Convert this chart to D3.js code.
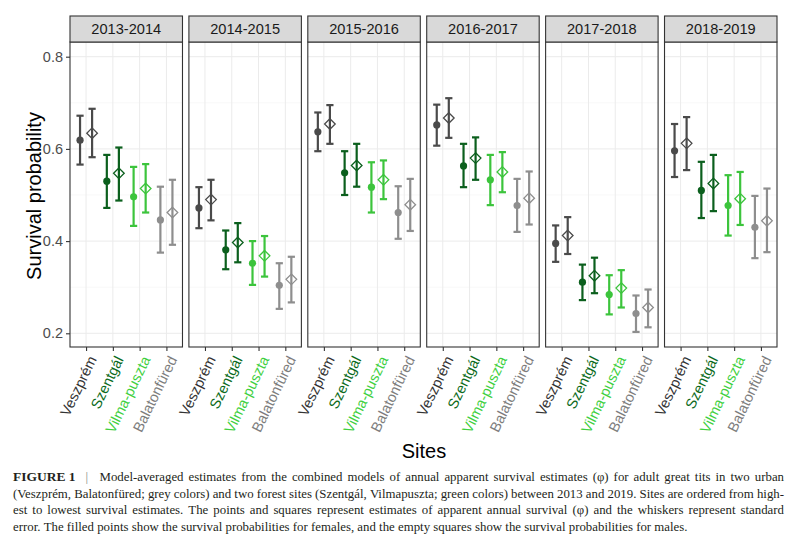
<!DOCTYPE html>
<html>
<head>
<meta charset="utf-8">
<script src="https://cdn.jsdelivr.net/npm/d3@7"></script>
<style>
  body { margin: 0; background: #fff; }
  svg { display: block; }
</style>
</head>
<body>
<div id="chart"></div>
<script>
// survival estimates, one row per season, columns follow `sites`
const years = ["2013-2014", "2014-2015", "2015-2016", "2016-2017", "2017-2018", "2018-2019"];
const sites = ["Veszprém", "Szentgál", "Vilma-puszta", "Balatonfüred"];

const femaleEst = [
  [0.619, 0.530, 0.496, 0.446],
  [0.472, 0.381, 0.352, 0.304],
  [0.637, 0.548, 0.517, 0.462],
  [0.652, 0.563, 0.533, 0.477],
  [0.395, 0.311, 0.284, 0.243],
  [0.596, 0.510, 0.477, 0.430]
];
const femaleLo = [
  [0.566, 0.472, 0.433, 0.375],
  [0.428, 0.339, 0.305, 0.253],
  [0.595, 0.500, 0.462, 0.405],
  [0.607, 0.517, 0.478, 0.420],
  [0.355, 0.272, 0.241, 0.203],
  [0.539, 0.450, 0.412, 0.363]
];
const femaleHi = [
  [0.672, 0.587, 0.561, 0.518],
  [0.517, 0.423, 0.400, 0.352],
  [0.679, 0.595, 0.571, 0.519],
  [0.696, 0.611, 0.587, 0.535],
  [0.434, 0.349, 0.326, 0.282],
  [0.654, 0.572, 0.543, 0.498]
];
const maleEst = [
  [0.634, 0.547, 0.514, 0.462],
  [0.490, 0.397, 0.368, 0.317],
  [0.654, 0.564, 0.533, 0.479],
  [0.667, 0.580, 0.550, 0.493],
  [0.412, 0.325, 0.298, 0.256],
  [0.612, 0.525, 0.492, 0.444]
];
const maleLo = [
  [0.582, 0.488, 0.462, 0.392],
  [0.445, 0.354, 0.323, 0.267],
  [0.611, 0.518, 0.491, 0.422],
  [0.624, 0.533, 0.506, 0.436],
  [0.372, 0.287, 0.256, 0.213],
  [0.554, 0.465, 0.435, 0.376]
];
const maleHi = [
  [0.687, 0.603, 0.567, 0.533],
  [0.533, 0.439, 0.411, 0.366],
  [0.695, 0.611, 0.575, 0.535],
  [0.710, 0.625, 0.593, 0.551],
  [0.452, 0.364, 0.337, 0.295],
  [0.669, 0.587, 0.550, 0.514]
];
const yTicks = [0.2, 0.4, 0.6, 0.8];
const yMinor = [0.3, 0.5, 0.7];

const captionLines = [
  "Model-averaged estimates from the combined models of annual apparent survival estimates (φ) for adult great tits in two urban",
  "(Veszprém, Balatonfüred; grey colors) and two forest sites (Szentgál, Vilmapuszta; green colors) between 2013 and 2019. Sites are ordered from high-",
  "est to lowest survival estimates. The points and squares represent estimates of apparent annual survival (φ) and the whiskers represent standard",
  "error. The filled points show the survival probabilities for females, and the empty squares show the survival probabilities for males."
];

const markColor = d3.scaleOrdinal().domain(sites).range(["#4a4a4a", "#0b5f1d", "#3cc43c", "#8e8e8e"]);
const labelColor = d3.scaleOrdinal().domain(sites).range(["#333333", "#0b6a20", "#3fd03f", "#7d7d7d"]);

const W = 800, H = 553;
const sans = "Liberation Sans, Arial, sans-serif";
const svg = d3.select("#chart").append("svg").attr("width", W).attr("height", H);

const stripTop = 16, panelTop = 42, panelBottom = 347;

const panelX = d3.scaleBand().domain(years).range([70, 777]).paddingInner(0.054);
const bw = panelX.bandwidth();
const x = d3.scalePoint().domain(sites).range([0, bw]).padding(0.6);
const sexOffset = d3.scalePoint().domain(["female", "male"]).range([-0.225 * x.step(), 0.225 * x.step()]);
const y = d3.scaleLinear().domain([0.2, 0.8]).range([333.3, 56.7]);

// build long table
const rows = [];
years.forEach((yr, i) => {
  sites.forEach((s, j) => {
    rows.push({year: yr, site: s, sex: "female", est: femaleEst[i][j], lo: femaleLo[i][j], hi: femaleHi[i][j]});
    rows.push({year: yr, site: s, sex: "male", est: maleEst[i][j], lo: maleLo[i][j], hi: maleHi[i][j]});
  });
});

const panels = svg.selectAll(".panel").data(years).enter()
  .append("g").attr("class", "panel")
  .attr("transform", d => "translate(" + panelX(d) + ",0)");

panels.each(function(yr) {
  const g = d3.select(this);
  // grid
  g.selectAll(".minor").data(yMinor).enter().append("line")
    .attr("x1", 0).attr("x2", bw).attr("y1", d => y(d)).attr("y2", d => y(d))
    .attr("stroke", "#f3f3f3").attr("stroke-width", 0.6);
  g.selectAll(".major").data(yTicks).enter().append("line")
    .attr("x1", 0).attr("x2", bw).attr("y1", d => y(d)).attr("y2", d => y(d))
    .attr("stroke", "#ebebeb").attr("stroke-width", 1);
  g.selectAll(".vmajor").data(sites).enter().append("line")
    .attr("x1", d => x(d)).attr("x2", d => x(d)).attr("y1", panelTop).attr("y2", panelBottom)
    .attr("stroke", "#ebebeb").attr("stroke-width", 1);

  const data = rows.filter(r => r.year === yr);
  const cx = d => x(d.site) + sexOffset(d.sex);

  const bars = g.selectAll(".err").data(data).enter().append("g").attr("class", "err")
    .attr("stroke", d => markColor(d.site)).attr("stroke-width", 2.2).attr("fill", "none");
  bars.append("line").attr("x1", cx).attr("x2", cx).attr("y1", d => y(d.lo)).attr("y2", d => y(d.hi));
  bars.append("line").attr("x1", d => cx(d) - 3.6).attr("x2", d => cx(d) + 3.6).attr("y1", d => y(d.lo)).attr("y2", d => y(d.lo));
  bars.append("line").attr("x1", d => cx(d) - 3.6).attr("x2", d => cx(d) + 3.6).attr("y1", d => y(d.hi)).attr("y2", d => y(d.hi));

  g.selectAll(".fem").data(data.filter(d => d.sex === "female")).enter().append("circle")
    .attr("cx", cx).attr("cy", d => y(d.est)).attr("r", 3.6).attr("fill", d => markColor(d.site));

  const dia = d3.symbol().type(d3.symbolDiamond2).size(72);
  g.selectAll(".mal").data(data.filter(d => d.sex === "male")).enter().append("path")
    .attr("d", dia).attr("transform", d => "translate(" + cx(d) + "," + y(d.est) + ")")
    .attr("fill", "none").attr("stroke", d => markColor(d.site)).attr("stroke-width", 1.3);

  // border
  g.append("rect").attr("x", 0).attr("y", panelTop).attr("width", bw).attr("height", panelBottom - panelTop)
    .attr("fill", "none").attr("stroke", "#333").attr("stroke-width", 1.1);
  // strip
  g.append("rect").attr("x", 0).attr("y", stripTop).attr("width", bw).attr("height", panelTop - stripTop)
    .attr("fill", "#d9d9d9").attr("stroke", "#333").attr("stroke-width", 1.1);
  g.append("text").attr("x", bw / 2).attr("y", (stripTop + panelTop) / 2).attr("dy", "0.36em")
    .attr("text-anchor", "middle").attr("font-family", sans)
    .attr("font-size", 14.6).attr("fill", "#1a1a1a").text(yr);

  // x axis ticks and labels
  const ax = g.append("g").attr("transform", "translate(0," + panelBottom + ")")
    .call(d3.axisBottom(x).tickSize(4).tickPadding(2));
  ax.select(".domain").remove();
  ax.selectAll(".tick line").attr("stroke", "#333").attr("stroke-width", 1.1);
  ax.selectAll(".tick text")
    .attr("font-family", sans).attr("font-size", 14.5)
    .attr("fill", d => labelColor(d))
    .attr("text-anchor", "end")
    .attr("transform", "translate(6,10) rotate(-64)")
    .attr("x", 0).attr("y", 0).attr("dy", "0.35em");
});

// y axis on first panel
const yAxis = svg.append("g").attr("transform", "translate(" + panelX(years[0]) + ",0)")
  .call(d3.axisLeft(y).tickValues(yTicks).tickFormat(d3.format(".1f")).tickSize(4).tickPadding(3));
yAxis.select(".domain").remove();
yAxis.selectAll(".tick line").attr("stroke", "#333").attr("stroke-width", 1.1);
yAxis.selectAll(".tick text").attr("font-family", sans)
  .attr("font-size", 14.5).attr("fill", "#4d4d4d");

// axis titles
svg.append("text").attr("transform", "translate(41,196) rotate(-90)")
  .attr("text-anchor", "middle").attr("font-family", sans)
  .attr("font-size", 20).attr("fill", "#000").text("Survival probability");
svg.append("text").attr("x", 424).attr("y", 458)
  .attr("text-anchor", "middle").attr("font-family", sans)
  .attr("font-size", 20).attr("fill", "#000").text("Sites");

// caption, justified by hand
const capLeft = 13, capRight = 784, capFont = "Liberation Serif, Times New Roman, serif";
const capY = [481, 497.7, 514.4, 531];
const cap = svg.append("g").attr("font-family", capFont).attr("font-size", 12).attr("fill", "#231f20");

function measure(str, bold) {
  const t = cap.append("text").attr("font-weight", bold ? "bold" : null).text(str);
  const w = t.node().getComputedTextLength();
  t.remove();
  return w;
}
// last line in the figure runs from x=13 to about x=687
const capSize = 12 * 674 / measure(captionLines[3], false);
cap.attr("font-size", capSize);
const spaceW = measure("a a", false) - measure("aa", false);

captionLines.forEach((line, i) => {
  const words = line.split(" ");
  let start = capLeft;
  if (i === 0) {
    cap.append("text").attr("x", capLeft).attr("y", capY[0]).attr("font-weight", "bold")
      .attr("font-size", capSize * 1.05).text("FIGURE 1");
    const fw = measure("FIGURE 1", true) * 1.05;
    cap.append("text").attr("x", capLeft + fw + 10).attr("y", capY[0]).attr("fill", "#888").text("|");
    start = capLeft + fw + 24;
  }
  const widths = words.map(w => measure(w, false));
  const total = d3.sum(widths);
  const justify = i < captionLines.length - 1;
  const space = justify ? (capRight - start - total) / (words.length - 1) : spaceW;
  let cur = start;
  words.forEach((w, k) => {
    cap.append("text").attr("x", cur).attr("y", capY[i]).text(w);
    cur += widths[k] + space;
  });
});
</script>
</body>
</html>
